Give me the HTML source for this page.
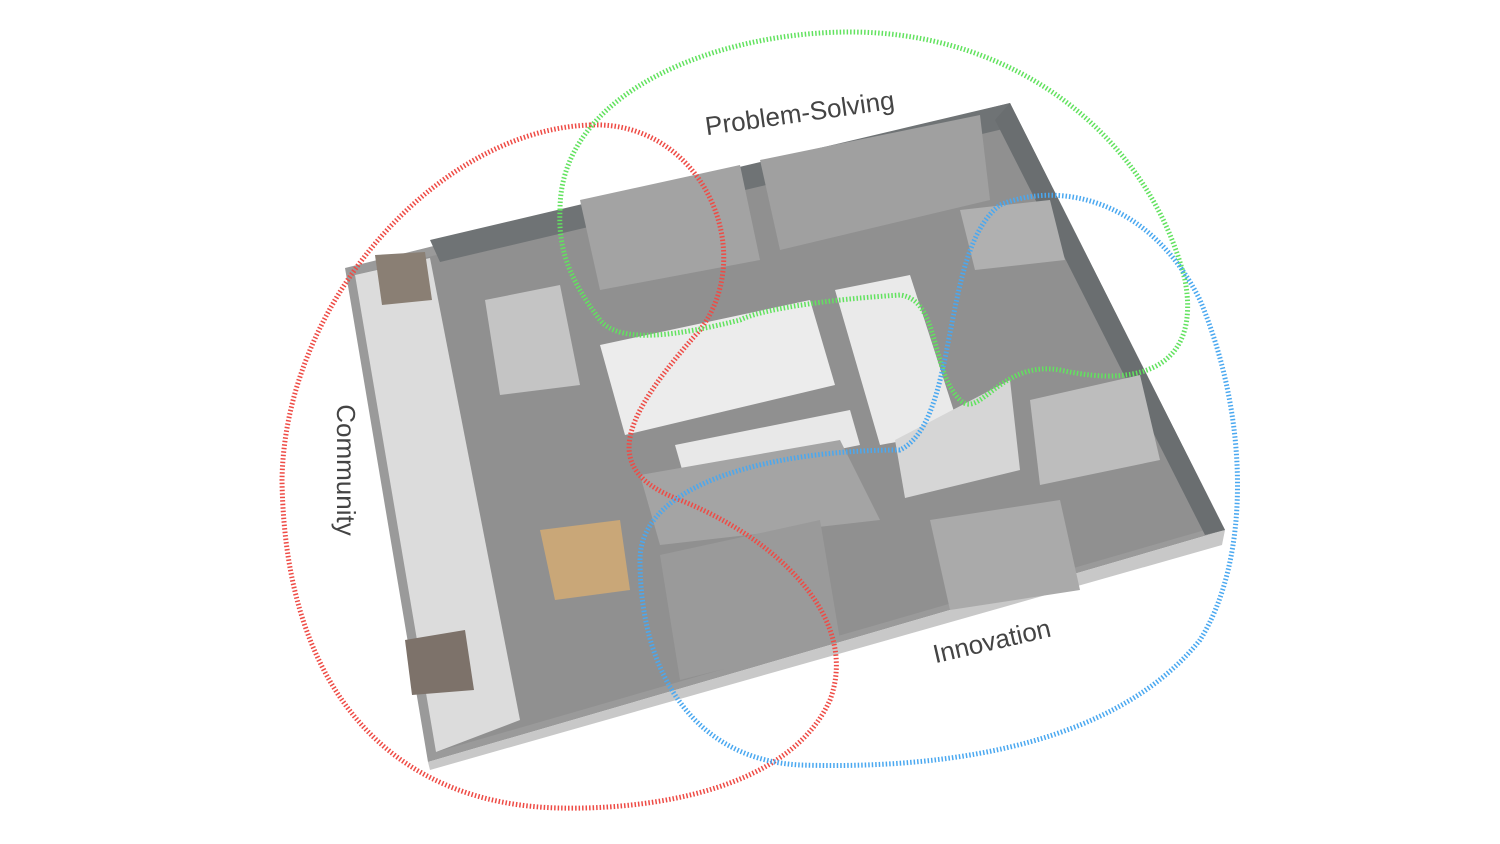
<!DOCTYPE html>
<html><head><meta charset="utf-8"><style>
html,body{margin:0;padding:0;background:#fff;width:1500px;height:844px;overflow:hidden}
</style></head><body>
<svg width="1500" height="844" viewBox="0 0 1500 844" xmlns="http://www.w3.org/2000/svg">
<polygon points="345,268 1010,103 1225,530 428,762" fill="#9a9a9a"/>
<polygon points="428,762 1225,530 1222,545 430,770" fill="#c8c8c8"/>
<polygon points="355,275 1005,115 1212,528 436,752" fill="#909090"/>
<polygon points="355,275 430,258 520,720 436,752" fill="#dcdcdc"/>
<polygon points="430,240 1010,103 1020,125 440,262" fill="#6f7375"/>
<polygon points="1010,103 1225,530 1205,535 995,120" fill="#6a6e70"/>
<polygon points="600,345 810,300 835,385 625,435" fill="#ececec"/>
<polygon points="835,290 910,275 960,430 880,445" fill="#eaeaea"/>
<polygon points="675,445 850,410 860,445 685,480" fill="#e8e8e8"/>
<polygon points="485,300 560,285 580,385 500,395" fill="#c4c4c4"/>
<polygon points="895,440 1010,380 1020,470 905,498" fill="#d6d6d6"/>
<polygon points="1030,400 1140,375 1160,460 1040,485" fill="#bdbdbd"/>
<polygon points="960,210 1050,200 1065,260 975,270" fill="#b0b0b0"/>
<polygon points="640,475 840,440 880,520 660,545" fill="#a4a4a4"/>
<polygon points="660,555 820,520 840,640 680,680" fill="#9a9a9a"/>
<polygon points="930,520 1060,500 1080,590 950,610" fill="#aaaaaa"/>
<polygon points="540,530 620,520 630,590 555,600" fill="#c9a778"/>
<polygon points="375,255 425,252 432,300 382,305" fill="#8a7f74"/>
<polygon points="405,640 465,630 474,690 412,695" fill="#7d726a"/>
<polygon points="580,200 740,165 760,260 600,290" fill="#a3a3a3"/>
<polygon points="760,160 980,115 990,200 780,250" fill="#a0a0a0"/>
<g fill="none" stroke-width="5" stroke-dasharray="1.5 2">
<path stroke="#ee4b45" d="M590,125 C700,120 760,250 700,330 C620,420 600,470 680,500 C780,540 860,620 830,700 C790,790 650,810 560,808 C400,805 285,700 282,480 C285,300 440,130 590,125 Z"/>
<path stroke="#62e25f" d="M560,210 C560,90 720,32 850,32 C1020,32 1150,140 1185,280 C1200,360 1150,390 1060,370 C1000,360 980,420 960,400 C930,370 940,300 900,295 C820,300 760,310 740,320 C680,335 620,345 600,320 C570,280 558,250 560,210 Z"/>
<path stroke="#4aa8f0" d="M640,560 C640,480 780,450 900,450 C960,420 940,250 1000,205 C1060,180 1150,200 1200,300 C1250,420 1250,560 1200,640 C1120,740 960,770 800,765 C700,760 640,680 640,560 Z"/>
</g>
<g font-family="Liberation Sans, sans-serif" font-size="26" fill="#444">
<text x="800" y="122" text-anchor="middle" transform="rotate(-8 800 115)">Problem-Solving</text>
<text x="345" y="478" text-anchor="middle" transform="rotate(90 345 470)">Community</text>
<text x="992" y="650" text-anchor="middle" transform="rotate(-13 992 642)">Innovation</text>
</g>
</svg>
</body></html>
